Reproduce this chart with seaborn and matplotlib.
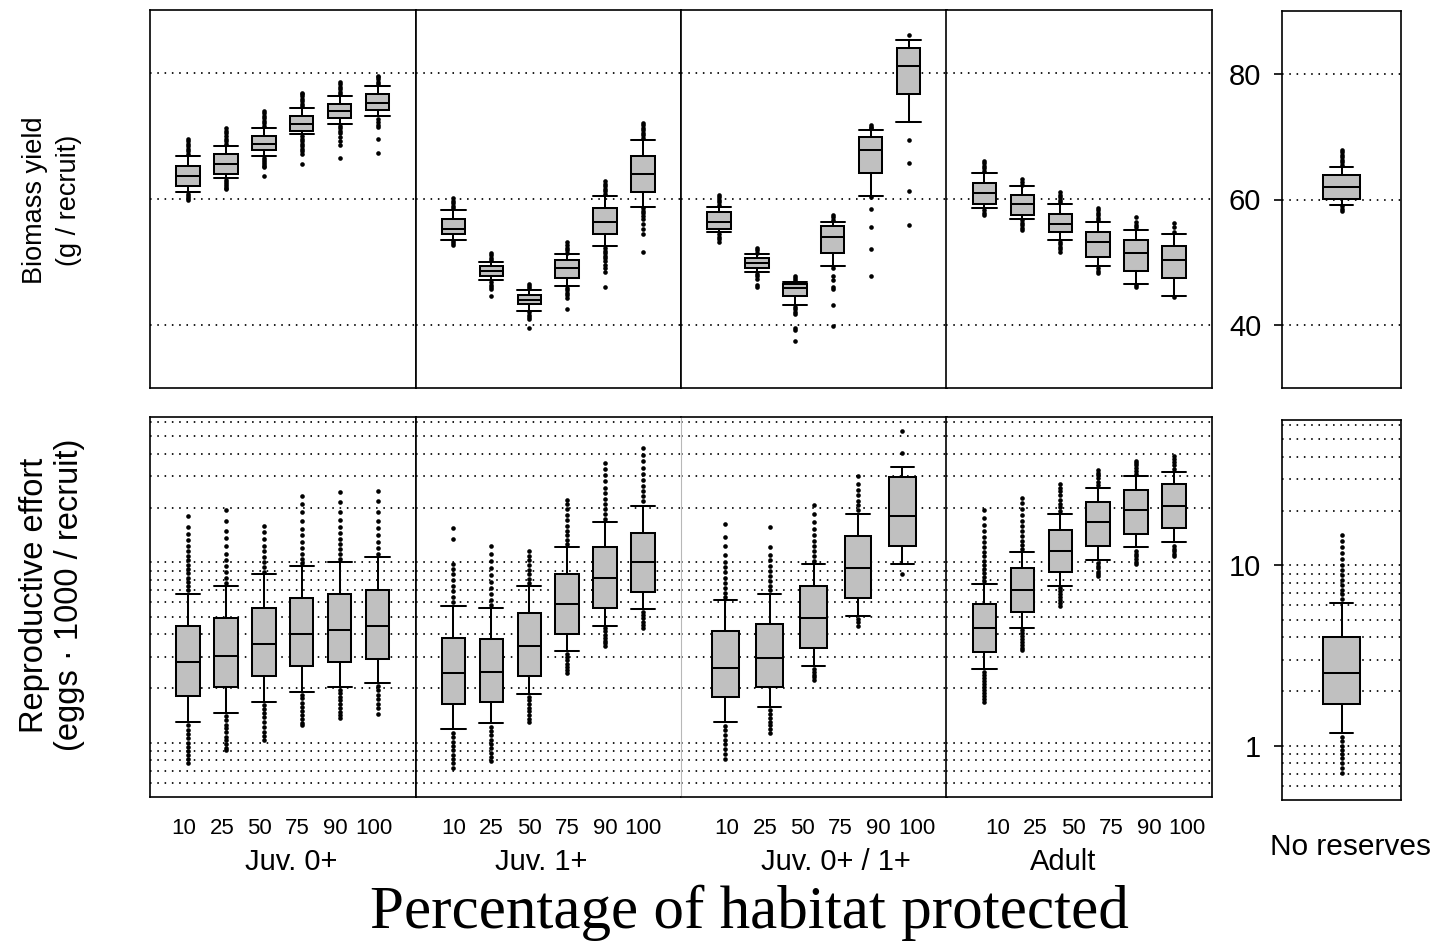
import numpy as np
import matplotlib
matplotlib.use("Agg")
import matplotlib.pyplot as plt
import matplotlib.ticker as mticker
import matplotlib.transforms as mtrans
import pandas as pd
import seaborn as sns

# ---------------------------------------------------------------- data
pct_labels = ["10", "25", "50", "75", "90", "100"]
group_names = ["Juv. 0+", "Juv. 1+", "Juv. 0+ / 1+", "Adult"]

# Biomass yield (g / recruit); each box: whisker low, Q1, median, Q3, whisker high
yield_juv0 = [[61.1, 62.0, 63.6, 65.2, 66.8], [63.3, 63.9, 65.5, 67.1, 68.4],
              [66.8, 67.7, 68.7, 70.0, 71.3], [70.3, 70.8, 71.9, 73.1, 74.4],
              [71.9, 72.8, 74.0, 75.0, 76.3], [73.1, 74.1, 75.3, 76.6, 77.9]]
yield_juv0_hi = [[67.2, 67.6, 68.0, 68.4, 68.8, 69.2, 69.6], [68.8, 69.2, 69.6, 70.0, 70.4, 70.8, 71.2],
                 [71.6, 72.0, 72.4, 72.8, 73.2, 73.6, 74.0], [74.7, 75.1, 75.5, 75.9, 76.3, 76.7, 76.9],
                 [76.6, 77.0, 77.4, 77.8, 78.2, 78.6], [78.2, 78.6, 79.0, 79.3, 79.6]]
yield_juv0_lo = [[60.8, 60.5, 60.2, 59.9], [63.0, 62.7, 62.4, 62.1, 61.8, 61.6],
                 [66.5, 66.2, 65.9, 65.6, 65.3, 65.0, 63.7],
                 [70.0, 69.6, 69.2, 68.8, 68.4, 68.0, 67.6, 67.2, 65.5],
                 [71.6, 71.2, 70.8, 70.4, 69.8, 69.2, 68.5, 66.5], [72.7, 72.2, 71.8, 71.4, 69.5, 67.3]]

yield_juv1 = [[53.5, 54.4, 55.3, 56.9, 58.2], [47.1, 47.7, 48.5, 49.3, 50.0],
              [42.3, 43.3, 44.0, 44.8, 45.5], [46.2, 47.4, 49.0, 50.3, 51.2],
              [52.5, 54.4, 56.3, 58.5, 60.5], [58.8, 61.1, 64.0, 66.8, 69.4]]
yield_juv1_hi = [[58.5, 58.9, 59.3, 59.7, 60.1], [50.3, 50.7, 51.1, 51.5], [45.8, 46.2, 46.5],
                 [51.5, 51.9, 52.3, 52.7, 53.1], [60.8, 61.2, 61.6, 62.0, 62.4, 62.8],
                 [69.7, 70.1, 70.5, 70.9, 71.3, 71.7, 72.1]]
yield_juv1_lo = [[53.3, 53.0, 52.7], [46.8, 46.4, 46.0, 45.7, 44.6], [42.0, 41.6, 41.2, 40.9, 39.5],
                 [45.9, 45.5, 45.1, 44.7, 44.3, 42.5],
                 [52.2, 51.8, 51.4, 51.0, 50.6, 50.2, 49.6, 49.0, 48.4, 46.0],
                 [58.5, 58.1, 57.7, 57.3, 56.9, 56.1, 55.3, 54.4, 51.6]]

yield_juv01 = [[54.7, 55.2, 56.3, 57.9, 58.8], [48.4, 49.0, 49.8, 50.6, 51.2],
               [43.2, 44.6, 45.8, 46.5, 46.8], [49.3, 51.5, 54.0, 55.7, 56.3],
               [60.4, 64.2, 67.7, 69.9, 70.9], [72.2, 76.6, 81.1, 83.9, 85.2]]
yield_juv01_hi = [[59.1, 59.5, 59.9, 60.3, 60.7], [51.5, 51.9, 52.3], [47.1, 47.4, 47.7],
                  [56.7, 57.1, 57.5], [71.2, 71.5, 71.7], [86.0]]
yield_juv01_lo = [[54.4, 54.0, 53.6, 53.1], [48.1, 47.7, 47.3, 46.4, 46.0],
                  [42.9, 42.5, 42.1, 41.8, 39.6, 39.2, 37.4],
                  [49.0, 47.8, 47.2, 46.0, 45.7, 43.1, 39.9],
                  [60.3, 58.4, 55.5, 52.1, 47.7], [69.3, 65.7, 61.2, 55.8]]

yield_adult = [[58.5, 59.2, 60.9, 62.6, 64.2], [56.9, 57.5, 59.2, 60.7, 62.0],
               [53.5, 54.7, 56.0, 57.6, 59.2], [49.3, 50.8, 53.1, 54.7, 56.3],
               [46.5, 48.6, 51.5, 53.5, 55.1], [44.6, 47.4, 50.3, 52.5, 54.4]]
yield_adult_hi = [[64.5, 64.9, 65.3, 65.7, 66.1], [62.3, 62.7, 63.1], [59.5, 59.9, 60.3, 60.7, 61.1],
                  [56.6, 57.0, 57.4, 57.8, 58.2, 58.5], [55.5, 55.9, 56.3, 57.1], [54.7, 55.6, 56.2]]
yield_adult_lo = [[58.2, 57.8, 57.4], [56.6, 56.2, 55.8, 55.4, 55.0], [53.2, 52.8, 52.4, 52.0, 51.6],
                  [49.0, 48.6, 48.2], [46.3, 46.1], [44.5]]

yield_none = [[59.2, 60.1, 62.0, 63.9, 65.2]]
yield_none_hi = [[65.5, 65.9, 66.3, 66.7, 67.1, 67.5, 67.9]]
yield_none_lo = [[58.9, 58.5, 58.1]]

# Reproductive effort (eggs * 1000 / recruit)
effort_juv0 = [[1.31, 1.82, 2.81, 4.45, 6.71], [1.46, 2.03, 3.04, 4.92, 7.40],
               [1.69, 2.34, 3.54, 5.58, 8.61], [1.92, 2.66, 4.02, 6.35, 9.59],
               [2.03, 2.81, 4.23, 6.71, 10.1], [2.14, 2.90, 4.45, 7.00, 10.7]]
effort_juv0_hi = [[7.0, 7.4, 7.8, 8.2, 8.7, 9.2, 9.7, 10.3, 10.9, 11.6, 12.4, 13.3, 14.3, 15.7, 18.1],
                  [7.7, 8.2, 8.8, 9.5, 10.3, 11.2, 12.3, 13.6, 15.0, 17.0, 19.6],
                  [8.9, 9.4, 10.0, 10.7, 11.5, 12.4, 13.5, 14.7, 16.0],
                  [9.9, 10.5, 11.2, 12.0, 13.0, 14.1, 15.4, 17.0, 19.0, 21.0, 23.2],
                  [10.5, 11.1, 11.8, 12.6, 13.5, 14.5, 15.7, 17.2, 19.0, 21.5, 24.6],
                  [11.2, 12.0, 13.0, 14.2, 15.5, 17.0, 19.0, 22.0, 25.0]]
effort_juv0_lo = [[1.25, 1.18, 1.12, 1.06, 1.0, 0.95, 0.90, 0.85, 0.81, 0.77],
                  [1.40, 1.33, 1.26, 1.20, 1.14, 1.08, 1.03, 0.98, 0.94, 0.915],
                  [1.62, 1.54, 1.46, 1.38, 1.30, 1.22, 1.15, 1.09, 1.04],
                  [1.85, 1.76, 1.67, 1.58, 1.50, 1.42, 1.35, 1.29, 1.25],
                  [1.96, 1.88, 1.80, 1.72, 1.64, 1.56, 1.48, 1.42, 1.37],
                  [2.05, 1.95, 1.85, 1.74, 1.64, 1.55, 1.44]]

effort_juv1 = [[1.19, 1.64, 2.43, 3.81, 5.73], [1.28, 1.69, 2.48, 3.74, 5.58],
               [1.87, 2.35, 3.45, 5.21, 7.43], [3.21, 4.02, 5.90, 8.61, 12.1],
               [4.45, 5.58, 8.19, 12.1, 16.7], [5.48, 6.85, 10.0, 14.6, 20.6]]
effort_juv1_hi = [[6.0, 6.4, 6.9, 7.4, 8.0, 8.6, 9.2, 9.8, 13.4, 15.5],
                  [5.8, 6.2, 6.7, 7.2, 7.8, 8.5, 9.3, 10.2, 11.2, 12.3],
                  [7.7, 8.1, 8.6, 9.1, 9.7, 10.3, 10.9, 11.5],
                  [12.6, 13.3, 14.1, 15.0, 16.0, 17.1, 18.4, 19.8, 21.0, 22.2],
                  [17.5, 18.5, 19.7, 21.0, 22.5, 24.2, 26.0, 28.2, 30.7, 33.0, 35.4],
                  [21.8, 23.2, 24.8, 26.6, 28.6, 31.0, 33.5, 36.5, 39.5, 43.0]]
effort_juv1_lo = [[1.13, 1.07, 1.01, 0.96, 0.91, 0.86, 0.81, 0.77, 0.725],
                  [1.22, 1.16, 1.10, 1.04, 0.98, 0.93, 0.88, 0.83, 0.79],
                  [1.80, 1.72, 1.64, 1.56, 1.49, 1.42, 1.36, 1.31],
                  [3.10, 2.98, 2.86, 2.74, 2.62, 2.52, 2.43],
                  [4.30, 4.14, 3.98, 3.83, 3.68, 3.55, 3.43],
                  [5.30, 5.10, 4.90, 4.70, 4.50, 4.30]]

effort_juv01 = [[1.31, 1.79, 2.61, 4.14, 6.17], [1.57, 2.03, 2.96, 4.56, 6.68],
                [2.67, 3.35, 4.94, 7.43, 9.75], [5.05, 6.35, 9.35, 14.0, 18.5],
                [9.75, 12.3, 18.1, 29.9, 33.9]]
effort_juv01_hi = [[6.4, 6.8, 7.2, 7.7, 8.2, 8.8, 9.4, 10.0, 11.0, 12.3, 13.8, 16.3],
                   [7.0, 7.4, 7.9, 8.4, 9.0, 9.6, 10.3, 11.0, 12.2, 15.8],
                   [10.2, 10.8, 11.5, 12.3, 13.2, 14.2, 15.4, 16.8, 18.6, 20.9],
                   [19.5, 20.7, 22.0, 23.5, 25.2, 27.2, 30.3],
                   [40.2, 53.6]]
effort_juv01_lo = [[1.24, 1.17, 1.10, 1.04, 0.98, 0.92, 0.87, 0.81],
                   [1.51, 1.44, 1.37, 1.31, 1.25, 1.19, 1.13],
                   [2.57, 2.47, 2.38, 2.30, 2.23],
                   [4.85, 4.65, 4.43],
                   [8.66]]

effort_adult = [[2.55, 3.19, 4.35, 5.90, 7.59], [4.35, 5.31, 7.06, 9.31, 11.4],
                [7.43, 8.88, 11.6, 15.2, 18.5], [10.3, 12.3, 16.7, 21.7, 25.9],
                [12.1, 14.3, 19.5, 25.2, 30.0], [12.9, 15.5, 20.6, 27.2, 31.7]]
effort_adult_hi = [[7.9, 8.3, 8.7, 9.2, 9.7, 10.2, 10.8, 11.4, 12.1, 12.9, 13.8, 14.9, 16.2, 17.7, 19.4],
                   [11.9, 12.5, 13.2, 14.0, 14.9, 15.9, 17.0, 18.3, 19.8, 21.3, 22.8],
                   [19.3, 20.2, 21.2, 22.3, 23.5, 24.8, 26.0, 27.2],
                   [26.9, 28.0, 29.2, 30.5, 31.5, 32.5],
                   [31.0, 32.2, 33.5, 34.8, 35.7, 36.6],
                   [33.0, 34.5, 36.0, 37.5, 39.0]]
effort_adult_lo = [[2.47, 2.38, 2.29, 2.20, 2.12, 2.04, 1.96, 1.89, 1.82, 1.75, 1.69],
                   [4.20, 4.05, 3.90, 3.76, 3.62, 3.49, 3.37, 3.26],
                   [7.2, 6.95, 6.7, 6.45, 6.2, 5.95, 5.72],
                   [9.95, 9.6, 9.25, 8.9, 8.6, 8.37],
                   [11.6, 11.2, 10.8, 10.4, 10.1, 9.75],
                   [12.4, 11.9, 11.5, 11.1, 10.8]]

effort_none = [[1.18, 1.70, 2.54, 4.0, 6.19]]
effort_none_hi = [[6.5, 6.9, 7.3, 7.8, 8.3, 8.8, 9.4, 10.0, 10.8, 11.7, 12.7, 13.7, 14.8]]
effort_none_lo = [[1.12, 1.06, 1.0, 0.95, 0.90, 0.85, 0.80, 0.75, 0.71]]

# ---------------------------------------------------------------- style
sns.set_style("white")
plt.rcParams["font.family"] = ["Liberation Sans", "DejaVu Sans"]
plt.rcParams.update({
    "axes.linewidth": 1.2,
    "axes.edgecolor": "black",
    "text.color": "black",
    "axes.labelcolor": "black",
    "xtick.color": "black",
    "ytick.color": "black",
})

BOX_FILL = "#c0c0c0"
LW = 1.45
GRID_KW = dict(color="black", linewidth=1.25, linestyle=(0, (0.9, 3.3)))
XTICK_SIZE = 16
XTICK_PAD_PX = 21

W, H = 1443, 951
fig = plt.figure(figsize=(W / 100, H / 100), dpi=100)
fig.patch.set_facecolor("white")


def rect(x0, y0, x1, y1):
    return [x0 / W, 1 - y1 / H, (x1 - x0) / W, (y1 - y0) / H]


def draw_boxes(ax, stats, lo_out, hi_out, box_w, cap_w):
    pos = np.arange(len(stats))
    summ = [dict(whislo=s[0], q1=s[1], med=s[2], q3=s[3], whishi=s[4]) for s in stats]
    ax.bxp(summ, positions=pos, widths=box_w, capwidths=cap_w, patch_artist=True,
           showfliers=False, manage_ticks=False,
           boxprops=dict(facecolor=BOX_FILL, edgecolor="black", linewidth=LW),
           medianprops=dict(color="black", linewidth=LW),
           whiskerprops=dict(color="black", linewidth=LW),
           capprops=dict(color="black", linewidth=LW))
    pts = [(p, v) for p, vals in zip(pos, lo_out) for v in vals]
    pts += [(p, v) for p, vals in zip(pos, hi_out) for v in vals]
    df = pd.DataFrame(pts, columns=["pos", "value"])
    sns.scatterplot(data=df, x="pos", y="value", ax=ax, s=11, color="black",
                    linewidth=0, legend=False, zorder=4)
    ax.set_xlabel("")
    ax.set_ylabel("")
    return pos


col_left = [150, 415.5, 681, 946.5]
col_w = 265.5
TOP = (10, 388)
BOT = (417, 797)

yield_sets = [(yield_juv0, yield_juv0_lo, yield_juv0_hi),
              (yield_juv1, yield_juv1_lo, yield_juv1_hi),
              (yield_juv01, yield_juv01_lo, yield_juv01_hi),
              (yield_adult, yield_adult_lo, yield_adult_hi)]
effort_sets = [(effort_juv0, effort_juv0_lo, effort_juv0_hi),
               (effort_juv1, effort_juv1_lo, effort_juv1_hi),
               (effort_juv01, effort_juv01_lo, effort_juv01_hi),
               (effort_adult, effort_adult_lo, effort_adult_hi)]

log_major = [1, 10]
log_minor = [0.6, 0.7, 0.8, 0.9, 2, 3, 4, 5, 6, 7, 8, 9, 20, 30, 40, 50, 60]


def style_yield(ax):
    ax.set_ylim(30, 90)
    ax.set_yticks([40, 60, 80])
    ax.set_axisbelow(True)
    ax.grid(True, axis="y", which="major", **GRID_KW)


def style_effort(ax):
    ax.set_yscale("log")
    ax.set_ylim(0.5, 64)
    ax.yaxis.set_major_locator(mticker.FixedLocator(log_major))
    ax.yaxis.set_major_formatter(mticker.FixedFormatter(["1", "10"]))
    ax.yaxis.set_minor_locator(mticker.FixedLocator(log_minor))
    ax.yaxis.set_minor_formatter(mticker.NullFormatter())
    ax.set_axisbelow(True)
    ax.grid(True, axis="y", which="both", **GRID_KW)


top_axes, bot_axes = [], []
label_shift = [-4, 0, 0, 13]
for i in range(4):
    x0 = col_left[i]
    # biomass yield row
    ax = fig.add_axes(rect(x0, TOP[0], x0 + col_w, TOP[1]))
    stats, lo, hi = yield_sets[i]
    pos = draw_boxes(ax, stats, lo, hi, 0.62, 0.64)
    ax.set_xlim(-1, len(stats))
    style_yield(ax)
    ax.set_xticks(pos)
    ax.tick_params(axis="x", direction="in", length=3, width=1, labelbottom=False)
    ax.tick_params(axis="y", which="both", left=False, labelleft=False)
    top_axes.append(ax)

    # reproductive effort row
    axb = fig.add_axes(rect(x0, BOT[0], x0 + col_w, BOT[1]))
    stats, lo, hi = effort_sets[i]
    n = len(stats)
    bw, cw = (0.62, 0.64) if n == 6 else (0.6, 0.52)
    pos = draw_boxes(axb, stats, lo, hi, bw, cw)
    axb.set_xlim(-1, n)
    style_effort(axb)
    axb.set_xticks(pos)
    axb.tick_params(axis="y", which="both", left=False, labelleft=False)
    axb.tick_params(axis="x", direction="in", length=3, width=1,
                    pad=XTICK_PAD_PX * 0.72, labelsize=XTICK_SIZE)
    if n == len(pct_labels):
        axb.set_xticklabels(pct_labels)
        shift = mtrans.ScaledTranslation(label_shift[i] / 100, 0, fig.dpi_scale_trans)
        for lbl in axb.get_xticklabels():
            lbl.set_transform(lbl.get_transform() + shift)
    else:
        # five boxes here, but the percentage row is laid out like the yield panel above
        axb.set_xticklabels([])
        tr = mtrans.blended_transform_factory(top_axes[i].transData, axb.transAxes)
        tr = tr + mtrans.ScaledTranslation(8 / 100, -XTICK_PAD_PX / 100, fig.dpi_scale_trans)
        for k, txt in enumerate(pct_labels):
            axb.text(k, 0, txt, transform=tr, ha="center", va="top", fontsize=XTICK_SIZE,
                     clip_on=False)
    bot_axes.append(axb)

# lighter divider between the second and third effort panels
bot_axes[1].spines["right"].set_visible(False)
bot_axes[2].spines["left"].set_color("#b8b8b8")
bot_axes[2].spines["left"].set_linewidth(0.8)

# "No reserves" panels
ax5 = fig.add_axes(rect(1282, TOP[0] + 1, 1401, TOP[1]))
draw_boxes(ax5, yield_none, yield_none_lo, yield_none_hi, 0.62, 0.39)
ax5.set_xlim(-1, 1)
style_yield(ax5)
ax5.set_xticks([0])
ax5.tick_params(axis="x", direction="in", length=3, width=1, labelbottom=False)
ax5.tick_params(axis="y", left=True, labelleft=True, length=6, width=1.2, pad=9,
                labelsize=21, direction="out")

ax5b = fig.add_axes(rect(1282, BOT[0] + 3, 1401, BOT[1] + 3))
draw_boxes(ax5b, effort_none, effort_none_lo, effort_none_hi, 0.62, 0.39)
ax5b.set_xlim(-1, 1)
style_effort(ax5b)
ax5b.set_xticks([0])
ax5b.tick_params(axis="x", direction="in", length=3, width=1, labelbottom=False)
ax5b.tick_params(axis="y", which="major", left=True, labelleft=True, length=6, width=1.2,
                 pad=9, labelsize=21, direction="out")
ax5b.tick_params(axis="y", which="minor", left=False)

# ---------------------------------------------------------------- labels
group_x = [291, 541, 836, 1063]
for gx, name in zip(group_x, group_names):
    fig.text(gx / W, 1 - 870 / H, name, ha="center", va="baseline", fontsize=21)
fig.text(1350 / W, 1 - 855 / H, "No reserves", ha="center", va="baseline", fontsize=21.5)

fig.text(52 / W, 1 - 200 / H, "Biomass yield\n(g / recruit)", rotation=90,
         ha="center", va="center", fontsize=19.5, linespacing=1.4)
fig.text(52 / W, 1 - 595 / H, "Reproductive effort\n(eggs \u00b7 1000 / recruit)", rotation=90,
         ha="center", va="center", fontsize=23.5, linespacing=1.15)

fig.text(749 / W, 1 - 928 / H, "Percentage of habitat protected", ha="center", va="baseline",
         fontsize=44, family=["Liberation Serif", "DejaVu Serif"])

fig.savefig("out.png", dpi=100, facecolor="white")
